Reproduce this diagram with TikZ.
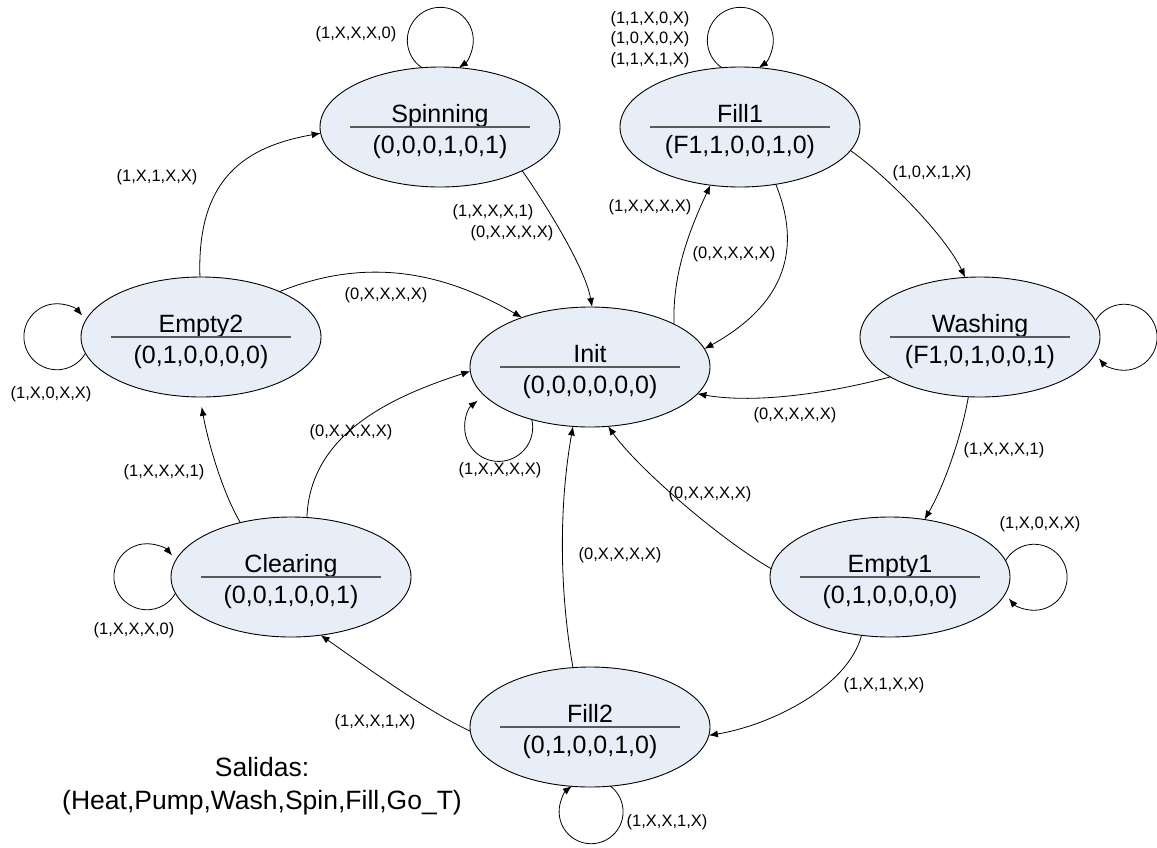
\documentclass[tikz,border=0pt]{standalone}
\usepackage{fontspec}
\setmainfont{Liberation Sans}
\usetikzlibrary{shapes.geometric,arrows.meta,calc}
\definecolor{stfill}{RGB}{232,238,247}
\definecolor{divc}{RGB}{90,90,90}
\tikzset{
 st/.style={ellipse,draw=black,line width=0.9pt,fill=stfill,minimum width=240pt,minimum height=120pt,inner sep=0pt,outer sep=0pt},
 sttext/.style={font=\fontsize{25}{30}\selectfont,anchor=base,inner sep=0pt},
 divline/.style={draw=divc,line width=1.4pt},
 tr/.style={draw=black,line width=0.8pt,-{Latex[length=9pt,width=7pt]}},
 lab/.style={font=\fontsize{16.5}{20.5}\selectfont,inner sep=0pt,align=center},
 legend/.style={font=\fontsize{26.5}{33}\selectfont,inner sep=0pt,align=center},
}
\newcommand\mkstate[5]{%
 \node[st] (#1) at (#2,-#3) {};
 \node[sttext] (#1t) at ([yshift=5pt]#1.center) {#4};
 \node[sttext] (#1o) at ([yshift=-26.5pt]#1.center) {#5};
 \draw[divline] ([xshift=-90pt]#1.center) -- ([xshift=90pt]#1.center);
}
\begin{document}
\begin{tikzpicture}[x=1pt,y=1pt]
\path[use as bounding box] (0,0) rectangle (1157,-847);
\mkstate{S}{440}{127}{Spinning}{(0,0,0,1,0,1)}
\mkstate{F1}{740}{127}{Fill1}{(F1,1,0,0,1,0)}
\mkstate{E2}{201}{337}{Empty2}{(0,1,0,0,0,0)}
\mkstate{I}{590}{367}{Init}{(0,0,0,0,0,0)}
\mkstate{W}{980}{337}{Washing}{(F1,0,1,0,0,1)}
\mkstate{E1}{890}{577}{Empty1}{(0,1,0,0,0,0)}
\mkstate{C}{291}{577}{Clearing}{(0,0,1,0,0,1)}
\mkstate{F2}{590}{727}{Fill2}{(0,1,0,0,1,0)}

% transitions
\draw[tr] (S.-28.5) .. controls +(-55:40pt) and +(100:40pt) .. (I.88);
\draw[tr] (E2.91) .. controls +(92:100pt) and +(190:75pt) .. (S.183);
\draw[tr] (E2.30.2) .. controls +(22:95pt) and +(150:90pt) .. (I.144);
\draw[tr] (I.27.4) .. controls +(92:50pt) and +(245:50pt) .. (F1.243.4);
\draw[tr] (F1.-58.9) .. controls +(-68:85pt) and +(29:75pt) .. (I.9);
\draw[tr] (F1.-12) .. controls +(-35:45pt) and +(115:45pt) .. (W.104);
\draw[tr] (W.204.5) .. controls +(195:60pt) and +(-10:60pt) .. (I.-14);
\draw[tr] (W.-101) .. controls +(-100:40pt) and +(60:40pt) .. (E1.59.7);
\draw[tr] (E1.176.6) .. controls +(150:60pt) and +(-55:50pt) .. (I.-73);
\draw[tr] (E1.244.4) .. controls +(-105:55pt) and +(9:60pt) .. (F2.-4.8);
\draw[tr] (F2.106) .. controls +(100:80pt) and +(260:80pt) .. (I.254);
\draw[tr] (F2.182.9) .. controls +(155:50pt) and +(-35:50pt) .. (C.-63.5);
\draw[tr,shorten >=10pt] (C.133.2) .. controls +(120:40pt) and +(-80:40pt) .. (E2.-91);
\draw[tr] (C.75) .. controls +(88:85pt) and +(198:80pt) .. (I.182.9);

% self loops
\draw[tr] (S.107) arc[start angle=236,end angle=-56,radius=33pt];
\draw[tr] (F1.107) arc[start angle=236,end angle=-56,radius=33pt];
\draw[tr] (W.8) arc[start angle=150,end angle=-140,radius=33pt];
\draw[tr] (E1.8) arc[start angle=150,end angle=-140,radius=33pt];
\draw[tr] (E2.188) arc[start angle=-30,end angle=-320,radius=33pt];
\draw[tr] (C.188) arc[start angle=-30,end angle=-320,radius=33pt];
\draw[tr] (I.222.5) arc[start angle=13.5,end angle=-232,radius=34pt];
\draw[tr] (F2.-71.6) arc[start angle=53,end angle=-233,radius=32pt];

% labels
\node[lab] (lS) at (356,-34) {(1,X,X,X,0)};
\node[lab] (lF1) at (650,-39.5) {(1,1,X,0,X)\\(1,0,X,0,X)\\(1,1,X,1,X)};
\node[lab] (lSI1) at (493,-212) {(1,X,X,X,1)};
\node[lab] (lSI2) at (512,-233) {(0,X,X,X,X)};
\node[lab] (lE2S) at (157,-177) {(1,X,1,X,X)};
\node[lab] (lE2I) at (386,-295) {(0,X,X,X,X)};
\node[lab] (lIF1) at (650,-207) {(1,X,X,X,X)};
\node[lab] (lF1I) at (734,-254) {(0,X,X,X,X)};
\node[lab] (lF1W) at (932,-173) {(1,0,X,1,X)};
\node[lab] (lWI) at (795,-415) {(0,X,X,X,X)};
\node[lab] (lWE1) at (1004,-450) {(1,X,X,X,1)};
\node[lab] (lE1) at (1040,-524) {(1,X,0,X,X)};
\node[lab] (lE1I) at (710,-494) {(0,X,X,X,X)};
\node[lab] (lE1F2) at (884,-685) {(1,X,1,X,X)};
\node[lab] (lF2I) at (620,-555) {(0,X,X,X,X)};
\node[lab] (lF2C) at (375,-722) {(1,X,X,1,X)};
\node[lab] (lF2) at (667,-822) {(1,X,X,1,X)};
\node[lab] (lI) at (500,-470) {(1,X,X,X,X)};
\node[lab] (lC) at (134,-630) {(1,X,X,X,0)};
\node[lab] (lCE2) at (164,-472) {(1,X,X,X,1)};
\node[lab] (lCI) at (351,-432) {(0,X,X,X,X)};
\node[lab] (lE2) at (51,-394) {(1,X,0,X,X)};

\node[legend] (leg) at (262,-786) {Salidas:\\(Heat,Pump,Wash,Spin,Fill,Go\_T)};
\end{tikzpicture}
\end{document}
